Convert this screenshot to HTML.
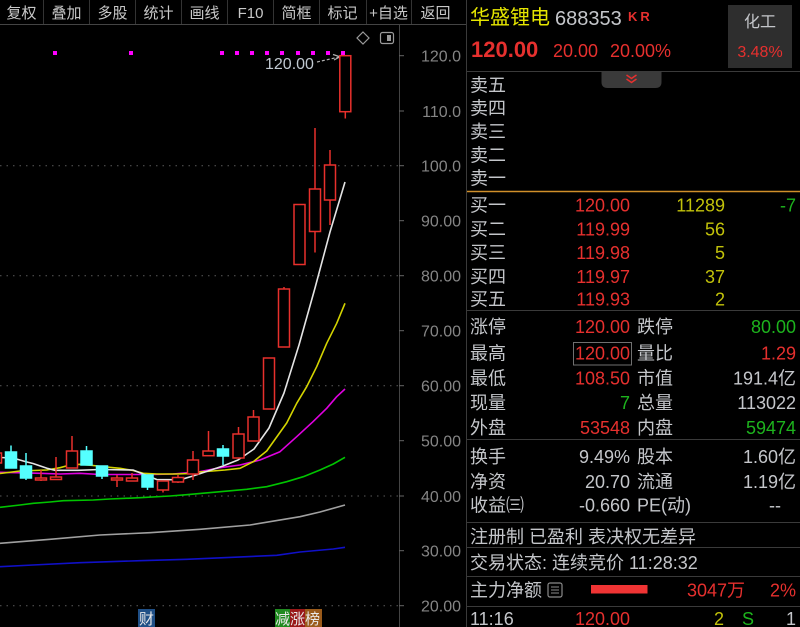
<!DOCTYPE html>
<html><head><meta charset="utf-8"><style>
html,body{margin:0;padding:0;background:#000;width:800px;height:627px;overflow:hidden}
svg{display:block}
text{font-family:"Liberation Sans","Noto Sans CJK SC",sans-serif}
.tb{font-size:15px;fill:#c8c8c8;text-anchor:middle}
.ax{font-size:16px;fill:#858585;text-anchor:end}
.lb{font-size:18px;fill:#c4c6ca}
.r{fill:#e6302e}
.g{fill:#1db31d}
.y{fill:#c2c20a}
.w{fill:#c4c6ca}
.e{text-anchor:end}
.v{font-size:18px}
</style></head><body>
<svg width="800" height="627" viewBox="0 0 800 627" xmlns="http://www.w3.org/2000/svg">
<rect width="800" height="627" fill="#000"/>

<!-- toolbar -->
<g stroke="#333" stroke-width="1">
<line x1="43.5" y1="0" x2="43.5" y2="24"/><line x1="89.5" y1="0" x2="89.5" y2="24"/>
<line x1="135.5" y1="0" x2="135.5" y2="24"/><line x1="181.5" y1="0" x2="181.5" y2="24"/>
<line x1="227.5" y1="0" x2="227.5" y2="24"/><line x1="273.5" y1="0" x2="273.5" y2="24"/>
<line x1="319.5" y1="0" x2="319.5" y2="24"/><line x1="366.5" y1="0" x2="366.5" y2="24"/>
<line x1="411.5" y1="0" x2="411.5" y2="24"/>
</g>
<line x1="0" y1="24.5" x2="466" y2="24.5" stroke="#444"/>
<text class="tb" x="21.5" y="18">复权</text>
<text class="tb" x="66.5" y="18">叠加</text>
<text class="tb" x="112.5" y="18">多股</text>
<text class="tb" x="158.5" y="18">统计</text>
<text class="tb" x="204.5" y="18">画线</text>
<text class="tb" x="250.5" y="18">F10</text>
<text class="tb" x="296.5" y="18">简框</text>
<text class="tb" x="342.5" y="18">标记</text>
<text class="tb" x="388.5" y="18">+自选</text>
<text class="tb" x="435.5" y="18">返回</text>

<!-- axis -->
<line x1="399.5" y1="25" x2="399.5" y2="627" stroke="#444"/>
<line x1="466.5" y1="0" x2="466.5" y2="627" stroke="#3a3a3a"/>
<g stroke="#666">
<line x1="399" y1="55.7" x2="404" y2="55.7"/><line x1="399" y1="111" x2="404" y2="111"/>
<line x1="399" y1="165.7" x2="404" y2="165.7"/><line x1="399" y1="220.7" x2="404" y2="220.7"/>
<line x1="399" y1="275.7" x2="404" y2="275.7"/><line x1="399" y1="330.7" x2="404" y2="330.7"/>
<line x1="399" y1="385.7" x2="404" y2="385.7"/><line x1="399" y1="440.7" x2="404" y2="440.7"/>
<line x1="399" y1="496" x2="404" y2="496"/><line x1="399" y1="550.7" x2="404" y2="550.7"/>
<line x1="399" y1="605.7" x2="404" y2="605.7"/>
</g>
<g stroke="#5a5a5a" stroke-dasharray="1.5,5">
<line x1="0" y1="165.7" x2="398" y2="165.7"/><line x1="0" y1="275.7" x2="398" y2="275.7"/>
<line x1="0" y1="385.7" x2="398" y2="385.7"/><line x1="0" y1="496" x2="398" y2="496"/>
<line x1="0" y1="605.7" x2="398" y2="605.7"/>
</g>
<text class="ax" x="461" y="61.5">120.0</text>
<text class="ax" x="461" y="116.8">110.0</text>
<text class="ax" x="461" y="171.5">100.0</text>
<text class="ax" x="461" y="226.5">90.00</text>
<text class="ax" x="461" y="281.5">80.00</text>
<text class="ax" x="461" y="336.5">70.00</text>
<text class="ax" x="461" y="391.5">60.00</text>
<text class="ax" x="461" y="446.5">50.00</text>
<text class="ax" x="461" y="501.8">40.00</text>
<text class="ax" x="461" y="556.5">30.00</text>
<text class="ax" x="461" y="611.5">20.00</text>

<!-- top icons -->
<polygon points="363,32 369,38 363,44 357,38" fill="none" stroke="#9a9a9a" stroke-width="1.2"/>
<rect x="380.5" y="32.5" width="13" height="11" rx="2" fill="none" stroke="#9a9a9a" stroke-width="1.2"/>
<rect x="387" y="35" width="4" height="6" fill="#9a9a9a"/>

<!-- magenta dots -->
<g fill="#ff00ff">
<rect x="53" y="51" width="4" height="4"/><rect x="129" y="51" width="4" height="4"/>
<rect x="220" y="51" width="4" height="4"/><rect x="235" y="51" width="4" height="4"/>
<rect x="250" y="51" width="4" height="4"/><rect x="265" y="51" width="4" height="4"/>
<rect x="280" y="51" width="4" height="4"/><rect x="296" y="51" width="4" height="4"/>
<rect x="311" y="51" width="4" height="4"/><rect x="326" y="51" width="4" height="4"/>
<rect x="341" y="51" width="4" height="4"/>
</g>
<text x="265" y="69" style="font-size:16px;fill:#c0c8d0">120.00</text>
<line x1="317" y1="62" x2="339" y2="57" stroke="#b0b0b0" stroke-width="1.2" stroke-dasharray="3,2"/>
<polyline points="333,54.5 340,56.8 334,60" fill="none" stroke="#b0b0b0" stroke-width="1.2"/>

<!-- moving averages -->
<g fill="none" stroke-width="1.6" stroke-linejoin="round">
<polyline stroke="#1010c8" points="0,566.7 33,565 80,562.7 140,560.7 186.7,559.3 246.7,556.7 276.7,555.3 300,552 333.3,549 345,547.3"/>
<polyline stroke="#a0a0a0" points="0,543.3 50,539.3 100,535 150,532.7 200,529.3 250,525 300,516.7 320,512 345,505"/>
<polyline stroke="#00c400" points="0,507.3 20,505 33.3,503.3 50,502 63.3,500.7 93.3,500 110,499 140,497.7 170,496 186.7,494.7 213.3,492.3 246.7,489.3 266.7,486.7 286.7,481.7 303.3,476.7 320,470 333.3,464 345,457.3"/>
<polyline stroke="#e000e0" points="0,472.3 16.7,472.7 40,473.3 60,474 80,473.3 100,474.5 133,474.5 153,474.5 173,474 200,471.7 220,467.7 240,465 260,460 280,451.7 296.7,436.7 313,421.7 326.7,408.3 336.7,396.7 345,389"/>
<polyline stroke="#d4d400" points="0,473.5 20,471 46.7,470 60,467.7 70,465 80,464.3 93,465.5 106.7,467 120,468.3 133,470.5 143.3,473.3 156.7,474 176.7,474 190,473.5 200,472 225,470 240,468.3 253.3,461.7 266.7,451 276.7,437 286.7,423 296.7,403.3 306.7,386.7 316.7,366.7 326.7,343.3 336.7,323.3 345,303.3"/>
<polyline stroke="#e4e4e4" points="0,457.5 13,458 25,461.5 33,463.5 47,468.3 55,470.3 78,470.3 100,469.5 133,470 143,474 156.7,479.5 180,479.8 193,476 208,471 223,466 238,460 254,449 269,428 284,393 299,345 315,288 330,232 345,182"/>
</g>

<!-- candles -->
<g stroke="#e8302c" stroke-width="1.5" fill="#000">
<rect x="-9.5" y="453" width="11" height="10"/>
<!-- 2 -->
<line x1="41" y1="470" x2="41" y2="481"/><rect x="35.5" y="478" width="11" height="2"/>
<!-- 3 -->
<line x1="56" y1="457" x2="56" y2="480"/><rect x="50.5" y="477" width="11" height="2.5"/>
<!-- 4 -->
<line x1="72" y1="436" x2="72" y2="451"/><rect x="66.5" y="451" width="11" height="17"/>
<!-- 7 -->
<line x1="117" y1="475" x2="117" y2="487"/><rect x="111.5" y="478" width="11" height="2"/>
<!-- 8 -->
<line x1="132" y1="473" x2="132" y2="481"/><rect x="126.5" y="478" width="11" height="3"/>
<!-- 10 -->
<line x1="163" y1="490" x2="163" y2="492.5"/><rect x="157.5" y="481" width="11" height="9"/>
<!-- 11 -->
<line x1="178" y1="475" x2="178" y2="483"/><rect x="172.5" y="477.5" width="11" height="4.5"/>
<!-- 12 -->
<line x1="193" y1="451" x2="193" y2="480"/><rect x="187.5" y="460" width="11" height="14"/>
<!-- 13 -->
<line x1="208.5" y1="431" x2="208.5" y2="451"/><rect x="203" y="451" width="11" height="4.7"/>
<!-- 15 -->
<line x1="238.5" y1="427" x2="238.5" y2="434"/><rect x="233" y="434" width="11" height="24"/>
<!-- 16 -->
<line x1="253.5" y1="410" x2="253.5" y2="417"/><rect x="248" y="417" width="11" height="24"/>
<!-- 17 -->
<rect x="263.5" y="358" width="11" height="51"/>
<!-- 18 -->
<line x1="284" y1="287" x2="284" y2="289"/><rect x="278.5" y="289" width="11" height="58"/>
<!-- 19 -->
<rect x="294" y="204.5" width="11" height="60"/>
<!-- 20 -->
<line x1="315" y1="128" x2="315" y2="252.5"/><rect x="309.5" y="189" width="11" height="42.5"/>
<!-- 21 -->
<line x1="330" y1="150" x2="330" y2="225"/><rect x="324.5" y="165" width="11" height="35"/>
<!-- 22 -->
<line x1="345.3" y1="111.7" x2="345.3" y2="118.5"/><rect x="339.8" y="55.7" width="11" height="56"/>
</g>
<g stroke="#55ffff" stroke-width="1.5" fill="#55ffff">
<line x1="11" y1="445.5" x2="11" y2="468"/><rect x="5.5" y="452" width="11" height="16"/>
<line x1="26" y1="453" x2="26" y2="480"/><rect x="20.5" y="466" width="11" height="12"/>
<line x1="86.5" y1="446" x2="86.5" y2="465"/><rect x="81" y="451" width="11" height="14"/>
<line x1="102" y1="466" x2="102" y2="479"/><rect x="96.5" y="466" width="11" height="10"/>
<line x1="147.5" y1="475" x2="147.5" y2="490"/><rect x="142" y="475" width="11" height="12"/>
<line x1="223" y1="445" x2="223" y2="465"/><rect x="217.5" y="449" width="11" height="7"/>
</g>

<!-- bottom markers -->
<rect x="138" y="609" width="17" height="18" fill="#1f4f86"/>
<text x="139" y="624" style="font-size:15px;fill:#e8e8e8">财</text>
<rect x="275" y="609" width="15" height="18" fill="#1f8a1f"/>
<rect x="290" y="609" width="15" height="18" fill="#9a1818"/>
<rect x="305" y="609" width="17" height="18" fill="#9a5a1a"/>
<text x="275" y="624" style="font-size:15px;fill:#e8e8e8">减涨榜</text>

<!-- right panel -->
<text x="470" y="24" style="font-size:20px;fill:#e6e600">华盛锂电</text>
<text x="555" y="25" style="font-size:20px;fill:#c4c6ca">688353</text>
<text x="628" y="21" style="font-size:13px;font-weight:bold;fill:#e6302e;letter-spacing:3px">KR</text>
<text x="471" y="57" style="font-size:22px;font-weight:bold;fill:#e6302e">120.00</text>
<text x="553" y="57" style="font-size:18px;fill:#e6302e">20.00</text>
<text x="610" y="57" style="font-size:18px;fill:#e6302e">20.00%</text>
<rect x="728" y="5" width="64" height="63" fill="#2e2e2e"/>
<text x="760" y="27" style="font-size:16px;fill:#c4c6ca;text-anchor:middle">化工</text>
<text x="760" y="57" style="font-size:16px;fill:#e6302e;text-anchor:middle">3.48%</text>

<line x1="467" y1="71.5" x2="800" y2="71.5" stroke="#3a3a3a"/>
<path d="M601.5,71.5 H661.5 V82 Q661.5,88 655.5,88 H607.5 Q601.5,88 601.5,82 Z" fill="#3a3a3a"/>
<polyline points="626.5,75 631.5,78.5 636.5,75" fill="none" stroke="#e6302e" stroke-width="1.5"/>
<polyline points="626.5,79 631.5,82.5 636.5,79" fill="none" stroke="#e6302e" stroke-width="1.5"/>

<text class="lb" x="470" y="91.5">卖五</text>
<text class="lb" x="470" y="114.5">卖四</text>
<text class="lb" x="470" y="138">卖三</text>
<text class="lb" x="470" y="161.5">卖二</text>
<text class="lb" x="470" y="184.5">卖一</text>
<line x1="467" y1="191.5" x2="800" y2="191.5" stroke="#d08f2a" stroke-width="1.5"/>

<text class="lb" x="470" y="211.5">买一</text>
<text class="lb" x="470" y="235.5">买二</text>
<text class="lb" x="470" y="259">买三</text>
<text class="lb" x="470" y="283">买四</text>
<text class="lb" x="470" y="305.5">买五</text>
<g class="v">
<text class="r e" x="630" y="211.5">120.00</text>
<text class="r e" x="630" y="235.5">119.99</text>
<text class="r e" x="630" y="259">119.98</text>
<text class="r e" x="630" y="283">119.97</text>
<text class="r e" x="630" y="305.5">119.93</text>
<text class="y e" x="725" y="211.5">11289</text>
<text class="y e" x="725" y="235.5">56</text>
<text class="y e" x="725" y="259">5</text>
<text class="y e" x="725" y="283">37</text>
<text class="y e" x="725" y="305.5">2</text>
<text class="g e" x="796" y="211.5">-7</text>
</g>
<line x1="467" y1="310.5" x2="800" y2="310.5" stroke="#3a3a3a"/>

<text class="lb" x="470" y="333">涨停</text>
<text class="lb" x="470" y="359.5">最高</text>
<text class="lb" x="470" y="384.5">最低</text>
<text class="lb" x="470" y="409">现量</text>
<text class="lb" x="470" y="434">外盘</text>
<text class="lb" x="637" y="333">跌停</text>
<text class="lb" x="637" y="359.5">量比</text>
<text class="lb" x="637" y="384.5">市值</text>
<text class="lb" x="637" y="409">总量</text>
<text class="lb" x="637" y="434">内盘</text>
<rect x="573.5" y="342.5" width="58" height="22.5" fill="none" stroke="#707070" stroke-width="1"/>
<g class="v">
<text class="r e" x="630" y="333">120.00</text>
<text class="r e" x="630" y="359.5">120.00</text>
<text class="r e" x="630" y="384.5">108.50</text>
<text class="g e" x="630" y="409">7</text>
<text class="r e" x="630" y="434">53548</text>
<text class="g e" x="796" y="333">80.00</text>
<text class="r e" x="796" y="359.5">1.29</text>
<text class="w e" x="796" y="384.5">191.4亿</text>
<text class="w e" x="796" y="409">113022</text>
<text class="g e" x="796" y="434">59474</text>
</g>
<line x1="467" y1="439.5" x2="800" y2="439.5" stroke="#3a3a3a"/>

<text class="lb" x="470" y="463">换手</text>
<text class="lb" x="470" y="488">净资</text>
<text class="lb" x="470" y="511.5">收益㈢</text>
<text class="lb" x="637" y="463">股本</text>
<text class="lb" x="637" y="488">流通</text>
<text class="lb" x="637" y="511.5">PE(动)</text>
<g class="v">
<text class="w e" x="630" y="463">9.49%</text>
<text class="w e" x="630" y="488">20.70</text>
<text class="w e" x="630" y="511.5">-0.660</text>
<text class="w e" x="796" y="463">1.60亿</text>
<text class="w e" x="796" y="488">1.19亿</text>
<text class="w e" x="781" y="511.5">--</text>
</g>
<line x1="467" y1="522.5" x2="800" y2="522.5" stroke="#3a3a3a"/>
<text class="lb" x="470" y="543">注册制 已盈利 表决权无差异</text>
<line x1="467" y1="547.5" x2="800" y2="547.5" stroke="#3a3a3a"/>
<text class="lb" x="470" y="569">交易状态: 连续竞价 11:28:32</text>
<line x1="467" y1="576.5" x2="800" y2="576.5" stroke="#3a3a3a"/>
<text class="lb" x="470" y="596.5">主力净额</text>
<rect x="548" y="583" width="14" height="14" rx="2" fill="none" stroke="#8a8a8a" stroke-width="1.2"/>
<g stroke="#8a8a8a" stroke-width="1"><line x1="551" y1="587" x2="559" y2="587"/><line x1="551" y1="590" x2="559" y2="590"/><line x1="551" y1="593" x2="559" y2="593"/></g>
<rect x="591" y="585" width="56.5" height="8.5" fill="#f03434"/>
<text class="r e v" x="745" y="596.5">3047万</text>
<text class="r e v" x="796" y="596.5">2%</text>
<line x1="467" y1="606.5" x2="800" y2="606.5" stroke="#3a3a3a"/>
<text class="lb" x="470" y="625">11:16</text>
<text class="r e v" x="630" y="625">120.00</text>
<text class="y e v" x="724" y="625">2</text>
<text class="g e v" x="754" y="625">S</text>
<text class="w e v" x="796" y="625">1</text>
</svg>
</body></html>
